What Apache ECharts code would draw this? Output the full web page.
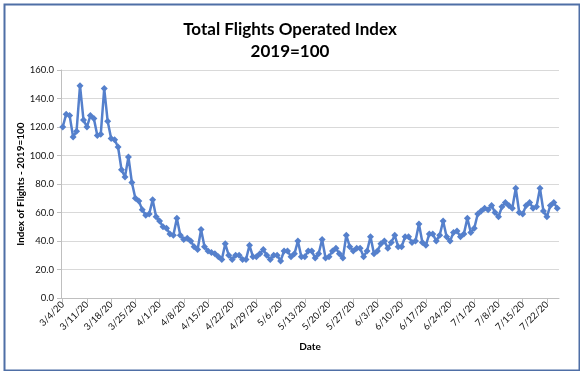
<!DOCTYPE html>
<html><head><meta charset="utf-8">
<script src="https://cdn.jsdelivr.net/npm/echarts@6/dist/echarts.min.js"></script>
<style>html,body{margin:0;padding:0;background:#fff}#c{width:580px;height:371px}</style>
</head><body><div id="c"></div>
<script>
const dates = [
'3/4/20','3/5/20','3/6/20','3/7/20','3/8/20','3/9/20','3/10/20','3/11/20','3/12/20','3/13/20','3/14/20','3/15/20','3/16/20','3/17/20','3/18/20','3/19/20','3/20/20','3/21/20','3/22/20','3/23/20','3/24/20','3/25/20','3/26/20','3/27/20','3/28/20','3/29/20','3/30/20','3/31/20',
'4/1/20','4/2/20','4/3/20','4/4/20','4/5/20','4/6/20','4/7/20','4/8/20','4/9/20','4/10/20','4/11/20','4/12/20','4/13/20','4/14/20','4/15/20','4/16/20','4/17/20','4/18/20','4/19/20','4/20/20','4/21/20','4/22/20','4/23/20','4/24/20','4/25/20','4/26/20','4/27/20','4/28/20','4/29/20','4/30/20',
'5/1/20','5/2/20','5/3/20','5/4/20','5/5/20','5/6/20','5/7/20','5/8/20','5/9/20','5/10/20','5/11/20','5/12/20','5/13/20','5/14/20','5/15/20','5/16/20','5/17/20','5/18/20','5/19/20','5/20/20','5/21/20','5/22/20','5/23/20','5/24/20','5/25/20','5/26/20','5/27/20','5/28/20','5/29/20','5/30/20','5/31/20',
'6/1/20','6/2/20','6/3/20','6/4/20','6/5/20','6/6/20','6/7/20','6/8/20','6/9/20','6/10/20','6/11/20','6/12/20','6/13/20','6/14/20','6/15/20','6/16/20','6/17/20','6/18/20','6/19/20','6/20/20','6/21/20','6/22/20','6/23/20','6/24/20','6/25/20','6/26/20','6/27/20','6/28/20','6/29/20','6/30/20',
'7/1/20','7/2/20','7/3/20','7/4/20','7/5/20','7/6/20','7/7/20','7/8/20','7/9/20','7/10/20','7/11/20','7/12/20','7/13/20','7/14/20','7/15/20','7/16/20','7/17/20','7/18/20','7/19/20','7/20/20','7/21/20','7/22/20','7/23/20','7/24/20','7/25/20'
];
const flightsIndex = [
120,129,128,113,117,149,125,
120,128,126,114,115,147,124,
112,111,106,90,85,99,81,
70,68,62,58,59,69,57,
54,50,49,45,44,56,44,
41,42,40,36,34,48,36,
33,32,31,29,27,38,30,
27,30,30,27,27,37,29,
29,31,34,30,27,30,30,
26,33,33,29,31,40,29,
29,33,33,28,31,41,28,
29,33,35,31,28,44,36,
33,35,35,29,33,43,31,
33,38,40,35,39,44,36,
36,43,43,39,40,52,39,
37,45,45,40,44,54,43,
40,46,47,43,45,56,46,
49,59,61,63,62,65,60,
57,64,67,65,63,77,60,
59,65,67,63,64,77,61,
57,65,67,63
];
const yTicks = {min: 0, max: 160, step: 20};
const titleText = 'Total Flights Operated Index\n2019=100';
const yName = 'Index of Flights - 2019=100';
const xName = 'Date';

const FONT = 'Lato';
const chart = echarts.init(document.getElementById('c'), null, {renderer: 'canvas'});
chart.setOption({
  backgroundColor: '#fff',
  animation: false,
  graphic: [{
    type: 'rect', left: 2, top: 2, z: 100, silent: true,
    shape: {width: 575, height: 366},
    style: {fill: 'none', stroke: '#4f6fa6', lineWidth: 2}
  }],
  title: {
    text: titleText, left: 'center', top: 14,
    textStyle: {fontFamily: FONT, fontWeight: 'bold', fontSize: 17, lineHeight: 22, color: '#000'}
  },
  grid: {left: 61, right: 21, top: 70, bottom: 73},
  xAxis: {
    type: 'category', data: dates, boundaryGap: true,
    name: xName, nameLocation: 'middle', nameGap: 44, nameMoveOverlap: false,
    nameTextStyle: {fontFamily: FONT, fontWeight: 'bold', fontSize: 10, color: '#000'},
    axisLine: {lineStyle: {color: '#bfbfbf', width: 1}},
    axisTick: {show: true, interval: 6, alignWithLabel: true, length: 5, lineStyle: {color: '#bfbfbf'}},
    axisLabel: {interval: 6, rotate: 45, fontFamily: FONT, fontSize: 9.5, color: '#111', margin: 5}
  },
  yAxis: {
    type: 'value', min: yTicks.min, max: yTicks.max, interval: yTicks.step,
    name: yName, nameLocation: 'middle', nameGap: 35, nameRotate: 90, nameMoveOverlap: false,
    nameTextStyle: {fontFamily: FONT, fontWeight: 'bold', fontSize: 10, color: '#000'},
    axisLine: {show: true, lineStyle: {color: '#bfbfbf'}},
    axisTick: {show: true, length: 4, lineStyle: {color: '#bfbfbf'}},
    axisLabel: {fontFamily: FONT, fontSize: 9.5, color: '#111', margin: 7, formatter: v => v.toFixed(1)},
    splitLine: {lineStyle: {color: '#d9d9d9', width: 1}}
  },
  series: [{
    type: 'line', data: flightsIndex,
    symbol: 'diamond', symbolSize: 7, showAllSymbol: true,
    lineStyle: {color: '#5580cc', width: 2.5},
    itemStyle: {color: '#5580cc'}
  }]
});
</script></body></html>
